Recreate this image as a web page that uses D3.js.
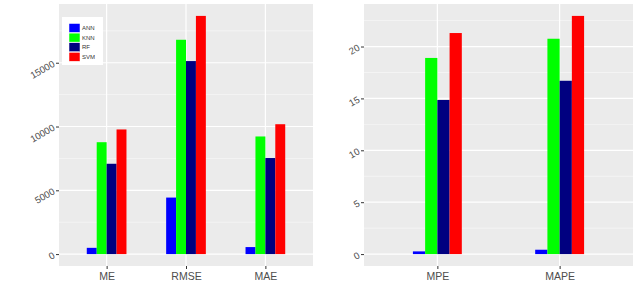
<!DOCTYPE html>
<html>
<head>
<meta charset="UTF-8">
<script src="https://d3js.org/d3.v7.min.js"></script>
<style>
  body { margin: 0; background: #fff; }
  svg { display: block; font-family: "Liberation Sans", Arial, sans-serif; }
</style>
</head>
<body>
<svg id="chart" width="640" height="293"></svg>
<script>
// data
const models = ["ANN", "KNN", "RF", "SVM"];
const colors = ["#0000ff", "#00ff00", "#000080", "#ff0000"];

const leftCats = ["ME", "RMSE", "MAE"];
const leftVals = {
  ANN: [490, 4430, 550],
  KNN: [8770, 16800, 9220],
  RF:  [7080, 15130, 7530],
  SVM: [9770, 18670, 10180]
};
const leftTicks = [0, 5000, 10000, 15000];
const leftMinor = [2500, 7500, 12500, 17500];

const rightCats = ["MPE", "MAPE"];
const rightVals = {
  ANN: [0.26, 0.42],
  KNN: [18.9, 20.75],
  RF:  [14.85, 16.7],
  SVM: [21.3, 22.95]
};
const rightTicks = [0, 5, 10, 15, 20];
const rightMinor = [2.5, 7.5, 12.5, 17.5, 22.5];

const svg = d3.select("#chart");
const color = d3.scaleOrdinal().domain(models).range(colors);

function panel(opts) {
  const { x0, x1, y0, y1, cats, vals, ticks, minor, groupW } = opts;
  const g = svg.append("g");
  const maxV = d3.max(models, m => d3.max(vals[m]));
  const pad = maxV * 0.05;
  const y = d3.scaleLinear().domain([-pad, maxV + pad]).range([y1, y0]);
  // ggplot style discrete expansion: 0.6 units each side
  const x = d3.scaleLinear().domain([0.4, cats.length + 0.6]).range([x0, x1]);

  g.append("rect").attr("x", x0).attr("y", y0)
    .attr("width", x1 - x0).attr("height", y1 - y0).attr("fill", "#ebebeb");

  g.selectAll(".minor").data(minor).enter().append("line")
    .attr("x1", x0).attr("x2", x1)
    .attr("y1", d => y(d)).attr("y2", d => y(d))
    .attr("stroke", "#fafafa").attr("stroke-width", 0.6);
  g.selectAll(".major").data(ticks).enter().append("line")
    .attr("x1", x0).attr("x2", x1)
    .attr("y1", d => y(d)).attr("y2", d => y(d))
    .attr("stroke", "#fff").attr("stroke-width", 1.2);
  g.selectAll(".vmajor").data(cats).enter().append("line")
    .attr("x1", (d, i) => x(i + 1)).attr("x2", (d, i) => x(i + 1))
    .attr("y1", y0).attr("y2", y1)
    .attr("stroke", "#fff").attr("stroke-width", 1.2);

  const unit = x(2) - x(1);
  const bw = unit * groupW / models.length;
  models.forEach((m, mi) => {
    g.selectAll(".b" + m).data(vals[m]).enter().append("rect")
      .attr("x", (d, i) => x(i + 1) - unit * groupW / 2 + mi * bw)
      .attr("width", bw)
      .attr("y", d => y(d))
      .attr("height", d => y(0) - y(d))
      .attr("fill", color(m));
  });

  // y axis
  const ya = g.append("g").attr("transform", `translate(${x0},0)`)
    .call(d3.axisLeft(y).tickValues(ticks).tickFormat(d3.format("d"))
      .tickSize(3).tickPadding(3));
  ya.select(".domain").remove();
  ya.selectAll("line").attr("stroke", "#333");
  ya.selectAll("text")
    .attr("fill", "#4d4d4d").style("font-size", "9.5px")
    .attr("x", -5).attr("dy", "0.32em")
    .attr("transform", "rotate(-30,-5,0)");

  // x axis
  const xa = g.append("g").attr("transform", `translate(0,${y1})`)
    .call(d3.axisBottom(x).tickValues(cats.map((c, i) => i + 1))
      .tickFormat((d, i) => cats[i]).tickSize(3).tickPadding(4));
  xa.select(".domain").remove();
  xa.selectAll("line").attr("stroke", "#333");
  xa.selectAll("text").attr("fill", "#4d4d4d").style("font-size", "10.5px");
}

panel({ x0: 59, x1: 313, y0: 4, y1: 266, cats: leftCats, vals: leftVals,
  ticks: leftTicks, minor: leftMinor, groupW: 0.5 });
panel({ x0: 364, x1: 633, y0: 4, y1: 266, cats: rightCats, vals: rightVals,
  ticks: rightTicks, minor: rightMinor, groupW: 0.4 });

// legend inside the left panel
const leg = svg.append("g").attr("transform", "translate(62,17)");
leg.append("rect").attr("width", 41).attr("height", 48).attr("fill", "#fff");
const items = leg.selectAll(".item").data(models).enter().append("g")
  .attr("transform", (d, i) => `translate(7,${6.5 + i * 9.6})`);
items.append("rect").attr("width", 11).attr("height", 9)
  .attr("fill", d => color(d)).attr("stroke", "#fff").attr("stroke-width", 0.5);
items.append("text").attr("x", 13).attr("y", 4.5).attr("dy", "0.35em")
  .style("font-size", "6px").attr("fill", "#333").text(d => d);
</script>
</body>
</html>
